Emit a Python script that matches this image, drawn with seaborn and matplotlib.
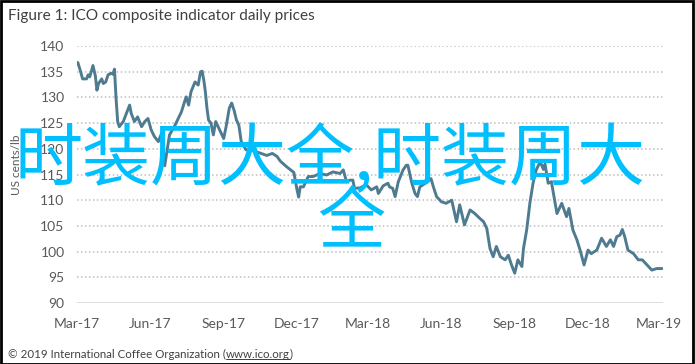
import matplotlib
matplotlib.use("Agg")
import matplotlib.pyplot as plt
from matplotlib.patches import Rectangle
from matplotlib.lines import Line2D
import seaborn as sns
import pandas as pd

# ---- data ----
dates = [
    "2017-03-02", "2017-03-05", "2017-03-08", "2017-03-13", "2017-03-15", "2017-03-17",
    "2017-03-21", "2017-03-24", "2017-03-26", "2017-03-28", "2017-04-01", "2017-04-03",
    "2017-04-06", "2017-04-09", "2017-04-13", "2017-04-15", "2017-04-17", "2017-04-19",
    "2017-04-21", "2017-04-23", "2017-04-28", "2017-05-02", "2017-05-06", "2017-05-08",
    "2017-05-12", "2017-05-16", "2017-05-21", "2017-05-25", "2017-05-29", "2017-06-02",
    "2017-06-06", "2017-06-11", "2017-06-15", "2017-06-19", "2017-06-25", "2017-07-02",
    "2017-07-06", "2017-07-10", "2017-07-14", "2017-07-16", "2017-07-19", "2017-07-22",
    "2017-07-27", "2017-07-31", "2017-08-03", "2017-08-05", "2017-08-07", "2017-08-09",
    "2017-08-11", "2017-08-13", "2017-08-16", "2017-08-19", "2017-08-22", "2017-08-25",
    "2017-08-29", "2017-09-01", "2017-09-04", "2017-09-08", "2017-09-11", "2017-09-14",
    "2017-09-17", "2017-09-20", "2017-09-23", "2017-09-29", "2017-10-07", "2017-10-12",
    "2017-10-18", "2017-10-25", "2017-11-01", "2017-11-07", "2017-11-11", "2017-11-19",
    "2017-11-28", "2017-12-02", "2017-12-04", "2017-12-06", "2017-12-10", "2017-12-14",
    "2017-12-16", "2017-12-22", "2017-12-31", "2018-01-08", "2018-01-16", "2018-01-25",
    "2018-01-29", "2018-02-02", "2018-02-06", "2018-02-10", "2018-02-12", "2018-02-19",
    "2018-02-27", "2018-03-05", "2018-03-12", "2018-03-14", "2018-03-20", "2018-03-26",
    "2018-03-28", "2018-04-01", "2018-04-04", "2018-04-08", "2018-04-14", "2018-04-18",
    "2018-04-20", "2018-04-25", "2018-04-29", "2018-05-02", "2018-05-05", "2018-05-12",
    "2018-05-19", "2018-05-22", "2018-05-26", "2018-06-01", "2018-06-07", "2018-06-14",
    "2018-06-20", "2018-06-24", "2018-06-30", "2018-07-07", "2018-07-13", "2018-07-19",
    "2018-07-24", "2018-07-28", "2018-08-01", "2018-08-05", "2018-08-09", "2018-08-14",
    "2018-08-20", "2018-08-24", "2018-08-28", "2018-09-01", "2018-09-05", "2018-09-10",
    "2018-09-12", "2018-09-16", "2018-09-20", "2018-09-24", "2018-09-28", "2018-10-03",
    "2018-10-07", "2018-10-09", "2018-10-13", "2018-10-17", "2018-10-24", "2018-10-30",
    "2018-11-05", "2018-11-08", "2018-11-13", "2018-11-18", "2018-11-22", "2018-11-27",
    "2018-12-02", "2018-12-06", "2018-12-13", "2018-12-19", "2018-12-25", "2018-12-30",
    "2019-01-03", "2019-01-07", "2019-01-11", "2019-01-14", "2019-01-17", "2019-01-21",
    "2019-01-28", "2019-02-03", "2019-02-08", "2019-02-14", "2019-02-20", "2019-02-26",
    "2019-03-03", "2019-03-05",
]
prices = [
    136.8, 135.3, 133.6, 133.6, 134.4, 134.0,
    136.2, 134.2, 131.4, 132.7, 133.6, 132.7,
    133.0, 134.4, 134.7, 134.5, 135.5, 129.8,
    125.3, 124.3, 125.3, 126.9, 128.5, 126.9,
    125.3, 126.2, 124.3, 125.3, 125.9, 123.7,
    122.4, 121.4, 123.0, 116.7, 122.7, 124.6,
    125.9, 127.2, 129.2, 130.1, 128.5, 131.1,
    133.0, 132.4, 135.0, 135.1, 133.4, 131.1,
    127.9, 125.6, 125.0, 122.7, 125.3, 124.3,
    123.0, 122.0, 124.3, 127.9, 128.9, 127.5,
    125.6, 124.6, 121.4, 119.8, 119.8, 119.4,
    119.1, 118.7, 119.1, 118.5, 117.6, 116.5,
    115.4, 112.0, 110.6, 112.6, 112.6, 113.9,
    114.6, 114.6, 115.2, 114.9, 115.5, 115.2,
    115.9, 113.6, 113.9, 113.9, 112.3, 112.4,
    113.0, 112.0, 112.6, 111.3, 112.8, 113.3,
    112.6, 112.3, 110.7, 113.6, 115.9, 116.8,
    116.8, 113.3, 111.3, 110.7, 112.6, 113.3,
    114.2, 112.6, 110.7, 109.7, 109.4, 110.0,
    105.8, 109.1, 105.2, 108.1, 107.4, 106.5,
    105.8, 104.5, 100.6, 99.0, 101.0, 99.0,
    98.4, 99.3, 97.4, 95.8, 98.4, 97.1,
    100.6, 104.2, 109.4, 113.3, 115.9, 117.5,
    116.0, 117.0, 113.3, 113.6, 107.4, 109.4,
    106.8, 108.4, 104.2, 102.3, 100.3, 97.4,
    100.3, 99.6, 100.3, 102.6, 101.0, 102.3,
    101.0, 102.9, 103.2, 104.3, 102.9, 100.3,
    99.6, 98.4, 98.4, 97.4, 96.4, 96.7,
    96.7, 96.7,
]
tick_dates = ["2017-03-01", "2017-06-01", "2017-09-01", "2017-12-01", "2018-03-01",
              "2018-06-01", "2018-09-01", "2018-12-01", "2019-03-01"]
tick_labels = ["Mar-17", "Jun-17", "Sep-17", "Dec-17", "Mar-18",
               "Jun-18", "Sep-18", "Dec-18", "Mar-19"]
y_ticks = [90, 95, 100, 105, 110, 115, 120, 125, 130, 135, 140]

title_text = "Figure 1: ICO composite indicator daily prices"
y_label = "US cents/lb"
footer_main = "\u00a9 2019 International Coffee Organization ("
footer_link = "www.ico.org"
footer_end = ")"
overlay_line1 = "时装周大全,时装周大"
overlay_line2 = "全"

# ---- styling ----
sns.set_style("white")
plt.rcParams["font.family"] = ["Lato", "DejaVu Sans"]

df = pd.DataFrame({"date": pd.to_datetime(dates), "price": prices})

W, H = 695, 364
fig = plt.figure(figsize=(W / 100, H / 100), dpi=100)
ax = fig.add_axes([77 / W, 1 - 303 / H, (663 - 77) / W, (303 - 46) / H])

sns.lineplot(data=df, x="date", y="price", ax=ax, color="#4f7b90", linewidth=2.1)

ax.set_ylim(90, 140)
ax.set_xlim(pd.Timestamp("2017-03-01"), pd.Timestamp("2019-03-06"))
ax.set_yticks(y_ticks)
ax.set_yticklabels([str(v) for v in y_ticks])
ax.set_xticks(pd.to_datetime(tick_dates))
ax.set_xticklabels(tick_labels)
ax.set_xlabel("")
ax.set_ylabel("")

for v in y_ticks[1:]:
    ax.axhline(v, color="#bfbfbf", linewidth=1.1, linestyle=(0, (1.0, 1.6)), zorder=0)
ax.axhline(90, color="#d9d9d9", linewidth=1.2, zorder=1)

for s in ax.spines.values():
    s.set_visible(False)
ax.tick_params(axis="both", length=0, labelsize=10, labelcolor="#595959")
ax.tick_params(axis="x", pad=11)
ax.tick_params(axis="y", pad=9)

fig.text(17 / W, 1 - 165 / H, y_label, rotation=90, ha="center", va="center",
         fontsize=8.5, color="#595959")

fig.text(8 / W, 1 - 16 / H, title_text, ha="left", va="center", fontsize=11.1,
         color="#404040")

fs_foot = 8.3
t1 = fig.text(8 / W, 1 - 354 / H, footer_main, ha="left", va="center", fontsize=fs_foot,
              color="#404040")
fig.canvas.draw()
r = fig.canvas.get_renderer()
bb = t1.get_window_extent(r)
t2 = fig.text(bb.x1 / W, 1 - 354 / H, footer_link, ha="left", va="center", fontsize=fs_foot,
              color="#404040")
bb2 = t2.get_window_extent(r)
t3 = fig.text(bb2.x1 / W, 1 - 354 / H, footer_end, ha="left", va="center", fontsize=fs_foot,
              color="#404040")
fig.add_artist(Line2D([bb2.x0 / W, bb2.x1 / W], [(bb2.y0 + 1) / H, (bb2.y0 + 1) / H],
                      color="#404040", linewidth=0.7, transform=fig.transFigure))

# frame around figure
fig.add_artist(Rectangle((0.5 / W, 0.5 / H), 1 - 2.5 / W, 1 - 1.5 / H, fill=False,
                         edgecolor="black", linewidth=2, transform=fig.transFigure))

# overlay watermark text
cjk = ["Noto Sans CJK SC", "DejaVu Sans"]
fig.text(15 / W, 1 - 161 / H, overlay_line1, ha="left", va="center", fontsize=49,
         color="#00bfff", family=cjk)
fig.text(351 / W, 1 - 224 / H, overlay_line2, ha="center", va="center", fontsize=49,
         color="#00bfff", family=cjk)

fig.savefig("out.png", dpi=100)
